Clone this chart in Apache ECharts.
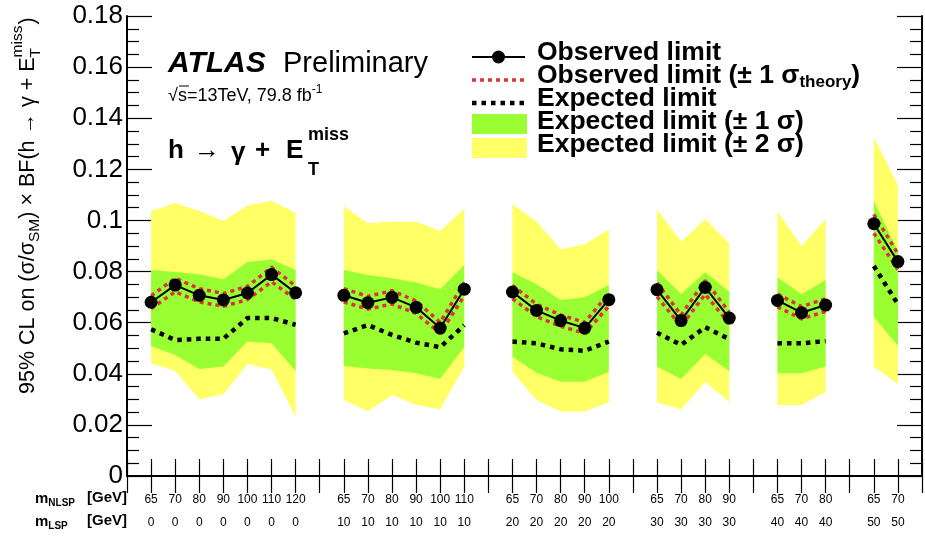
<!DOCTYPE html>
<html>
<head>
<meta charset="utf-8">
<script src="https://cdn.jsdelivr.net/npm/echarts@6/dist/echarts.min.js"></script>
<style>
  html, body { margin: 0; padding: 0; background: #ffffff; }
  #chart { width: 925px; height: 540px; }
</style>
</head>
<body>
<div id="chart"></div>
<script>
// Mass hypotheses along the x axis (empty entries are spacers between LSP groups)
const mNLSP = ['', '65','70','80','90','100','110','120', '', '65','70','80','90','100','110', '', '65','70','80','90','100', '', '65','70','80','90', '', '65','70','80', '', '65','70', ''];
const mLSP  = ['', '0','0','0','0','0','0','0', '', '10','10','10','10','10','10', '', '20','20','20','20','20', '', '30','30','30','30', '', '40','40','40', '', '50','50', ''];

// Observed limit and its theory variations
const observed = [null, 0.0680,0.0747,0.0707,0.0689,0.0716,0.0788,0.0717, null, 0.0707,0.0678,0.0699,0.0660,0.0579,0.0731, null, 0.0720,0.0648,0.0608,0.0579,0.0690, null, 0.0729,0.0608,0.0738,0.0618, null, 0.0687,0.0639,0.0669, null, 0.0987,0.0839, null];
const obsUp    = [null, 0.0705,0.0774,0.0733,0.0714,0.0742,0.0817,0.0743, null, 0.0733,0.0703,0.0725,0.0685,0.0601,0.0758, null, 0.0746,0.0672,0.0630,0.0601,0.0715, null, 0.0756,0.0630,0.0765,0.0641, null, 0.0712,0.0663,0.0694, null, 0.1024,0.0870, null];
const obsDown  = [null, 0.0655,0.0721,0.0681,0.0664,0.0690,0.0760,0.0691, null, 0.0681,0.0653,0.0673,0.0636,0.0558,0.0705, null, 0.0694,0.0624,0.0586,0.0558,0.0665, null, 0.0702,0.0586,0.0711,0.0596, null, 0.0662,0.0615,0.0644, null, 0.0950,0.0808, null];

// Expected limit with 1 and 2 sigma bands
const expected = [null, 0.0574,0.0532,0.0537,0.0537,0.0618,0.0618,0.0592, null, 0.0558,0.0591,0.0552,0.0522,0.0504,0.0590, null, 0.0526,0.0519,0.0496,0.0490,0.0526, null, 0.0561,0.0513,0.0582,0.0536, null, 0.0519,0.0519,0.0528, null, 0.0822,0.0672, null];
const exp1Up   = [null, 0.0806,0.0798,0.0789,0.0770,0.0837,0.0848,0.0806, null, 0.0806,0.0787,0.0774,0.0757,0.0731,0.0826, null, 0.0797,0.0750,0.0689,0.0699,0.0747, null, 0.0806,0.0712,0.0797,0.0721, null, 0.0777,0.0711,0.0767, null, 0.1077,0.0880, null];
const exp1Down = [null, 0.0509,0.0473,0.0419,0.0428,0.0526,0.0519,0.0411, null, 0.0430,0.0421,0.0415,0.0402,0.0381,0.0506, null, 0.0467,0.0404,0.0369,0.0369,0.0408, null, 0.0428,0.0380,0.0477,0.0411, null, 0.0402,0.0402,0.0428, null, 0.0623,0.0509, null];
const exp2Up   = [null, 0.1037,0.1067,0.1037,0.0998,0.1058,0.1077,0.1028, null, 0.1056,0.0989,0.0995,0.0995,0.0959,0.1045, null, 0.1064,0.0995,0.0887,0.0907,0.0965, null, 0.1045,0.0917,0.1006,0.0910, null, 0.1034,0.0900,0.1006, null, 0.1325,0.1139, null];
const exp2Down = [null, 0.0441,0.0411,0.0300,0.0320,0.0438,0.0417,0.0232, null, 0.0297,0.0252,0.0317,0.0278,0.0261,0.0428, null, 0.0408,0.0297,0.0252,0.0252,0.0290, null, 0.0288,0.0261,0.0367,0.0291, null, 0.0278,0.0278,0.0330, null, 0.0428,0.0360, null];

// Y axis range and ticks
const yMin = 0, yMax = 0.18, yStep = 0.02;

const FONT = '"Liberation Sans", Arial, Helvetica, sans-serif';
const GREEN = '#99ff33';
const YELLOW = '#ffff66';
const RED = '#d9343c';

const chart = echarts.init(document.getElementById('chart'), null, { renderer: 'canvas' });

// band thickness for stacked areas
const width = (hi, lo) => hi.map((v, i) => (v == null || lo[i] == null) ? null : +(v - lo[i]).toFixed(5));
const cats = mNLSP.map((_, i) => String(i));

// text measuring for composed labels with sub/superscripts
const meas = document.createElement('canvas').getContext('2d');
function textWidth(str, size, weight) {
  meas.font = (weight || 'normal') + ' ' + size + 'px ' + FONT;
  return meas.measureText(str).width;
}
function txt(str, x, y, size, extra) {
  return {
    type: 'text', x: x, y: y,
    style: Object.assign({
      text: str, fontSize: size, fontFamily: FONT, fill: '#000',
      align: 'left', verticalAlign: 'middle'
    }, extra || {})
  };
}

// Rotated y axis title: 95% CL on (σ/σ_SM) × BF(h → γ + E_T^miss)
const titleParts = [];
(function () {
  let cx = 0;
  const big = 21.5, small = 15.5;
  const put = (s, size, dy) => { titleParts.push(txt(s, cx, dy, size)); return textWidth(s, size); };
  cx += put('95% CL on (σ/σ', big, 0);
  cx += put('SM', small, 7);
  cx += put(') × BF(h → γ + E', big, 0);
  const wT = put('T', small, 8);
  const wM = put('miss', small, -10);
  cx += Math.max(wT, wM) + 1;
  put(')', big, 0);
})();

// h → γ + E_T^miss label
const procParts = [
  txt('h', 168, 151, 26, { fontWeight: 'bold' }),
  txt('→', 194, 151, 26),
  txt('γ', 231, 153, 26, { fontWeight: 'bold' }),
  txt('+', 255, 151, 26, { fontWeight: 'bold' }),
  txt('E', 286, 151, 26, { fontWeight: 'bold' }),
  txt('T', 308, 170, 18, { fontWeight: 'bold' }),
  txt('miss', 308, 135, 18, { fontWeight: 'bold' })
];

const legendX = 472, legendW = 53, legendTextX = 537;
const legendRows = [53, 76, 99, 122, 145];

const option = {
  animation: false,
  backgroundColor: '#ffffff',
  textStyle: { fontFamily: FONT },
  grid: { left: 127, right: -1, top: 16, bottom: 64, containLabel: false },
  xAxis: [
    {
      type: 'category', data: cats, boundaryGap: false, position: 'bottom',
      axisLine: { show: true, lineStyle: { color: '#000', width: 2 } },
      axisTick: { show: true, inside: true, length: 17, interval: 0, lineStyle: { color: '#000', width: 1.2 } },
      axisLabel: {
        show: true, interval: 0, margin: 12, color: '#000',
        formatter: (v, i) => '{r|' + mNLSP[i] + '}\n{r|' + mLSP[i] + '}',
        rich: { r: { fontSize: 12, lineHeight: 23, fontFamily: FONT, color: '#000' } }
      },
      splitLine: { show: false }
    },
    {
      type: 'category', data: cats, boundaryGap: false, position: 'top',
      axisLine: { show: true, lineStyle: { color: '#000', width: 2 } },
      axisTick: { show: true, inside: true, length: 17, interval: 0, lineStyle: { color: '#000', width: 1.2 } },
      axisLabel: { show: false },
      splitLine: { show: false }
    }
  ],
  yAxis: [
    {
      type: 'value', min: yMin, max: yMax, interval: yStep, position: 'left',
      axisLine: { show: true, lineStyle: { color: '#000', width: 2 } },
      axisTick: { show: true, inside: true, length: 25, lineStyle: { color: '#000', width: 1.2 } },
      minorTick: { show: true, splitNumber: 4, length: 12, lineStyle: { color: '#000', width: 1.2 } },
      axisLabel: {
        show: true, margin: 4, color: '#000', fontSize: 26, fontFamily: FONT,
        formatter: v => String(+v.toFixed(2))
      },
      splitLine: { show: false }
    },
    {
      type: 'value', min: yMin, max: yMax, interval: yStep, position: 'right',
      axisLine: { show: true, lineStyle: { color: '#000', width: 2 } },
      axisTick: { show: true, inside: true, length: 25, lineStyle: { color: '#000', width: 1.2 } },
      minorTick: { show: true, splitNumber: 4, length: 12, lineStyle: { color: '#000', width: 1.2 } },
      axisLabel: { show: false },
      splitLine: { show: false }
    }
  ],
  series: [
    // ±2σ band
    { name: 'lo2', type: 'line', stack: 'band2', data: exp2Down, symbol: 'none', silent: true,
      lineStyle: { width: 0, opacity: 0 }, connectNulls: false },
    { name: 'Expected limit (± 2 σ)', type: 'line', stack: 'band2', data: width(exp2Up, exp2Down), symbol: 'none', silent: true,
      lineStyle: { width: 0, opacity: 0 }, areaStyle: { color: YELLOW, opacity: 1 }, connectNulls: false },
    // ±1σ band
    { name: 'lo1', type: 'line', stack: 'band1', data: exp1Down, symbol: 'none', silent: true,
      lineStyle: { width: 0, opacity: 0 }, connectNulls: false },
    { name: 'Expected limit (± 1 σ)', type: 'line', stack: 'band1', data: width(exp1Up, exp1Down), symbol: 'none', silent: true,
      lineStyle: { width: 0, opacity: 0 }, areaStyle: { color: GREEN, opacity: 1 }, connectNulls: false },
    // expected limit
    { name: 'Expected limit', type: 'line', data: expected, symbol: 'none', silent: true,
      lineStyle: { color: '#000', width: 4.5, type: [4.5, 5], cap: 'butt' }, connectNulls: false },
    // observed ± theory
    { name: 'obsUp', type: 'line', data: obsUp, symbol: 'none', silent: true,
      lineStyle: { color: RED, width: 3.5, type: [4, 4], cap: 'butt' }, connectNulls: false },
    { name: 'obsDown', type: 'line', data: obsDown, symbol: 'none', silent: true,
      lineStyle: { color: RED, width: 3.5, type: [4, 4], cap: 'butt' }, connectNulls: false },
    // observed limit
    { name: 'Observed limit', type: 'line', data: observed, symbol: 'circle', symbolSize: 13, silent: true,
      itemStyle: { color: '#000' }, lineStyle: { color: '#000', width: 2 }, connectNulls: false }
  ],
  graphic: [
    { type: 'group', x: 28, y: 394, rotation: Math.PI / 2, children: titleParts },
    // experiment label
    txt('ATLAS', 168, 64, 30, { fontWeight: 'bold', fontStyle: 'italic' }),
    txt('Preliminary', 283, 64, 29),
    {
      type: 'text', x: 168, y: 96,
      style: {
        text: '√s=13TeV, 79.8 fb{sup|-1}', fontSize: 18, fontFamily: FONT, fill: '#000',
        align: 'left', verticalAlign: 'middle',
        rich: { sup: { fontSize: 12, verticalAlign: 'top', lineHeight: 12, fontFamily: FONT, fill: '#000' } },
        lineHeight: 24
      }
    },
    { type: 'line', shape: { x1: 179, y1: 86, x2: 189, y2: 86 }, style: { stroke: '#000', lineWidth: 1 } },
    ...procParts,
    // legend
    { type: 'line', shape: { x1: legendX, y1: legendRows[0] + 4, x2: legendX + legendW, y2: legendRows[0] + 4 }, style: { stroke: '#000', lineWidth: 2 } },
    { type: 'circle', shape: { cx: legendX + legendW / 2, cy: legendRows[0] + 4, r: 6.5 }, style: { fill: '#000' } },
    { type: 'line', shape: { x1: legendX, y1: legendRows[1] + 4, x2: legendX + legendW, y2: legendRows[1] + 4 }, style: { stroke: RED, lineWidth: 3.5, lineDash: [4, 4] } },
    { type: 'line', shape: { x1: legendX, y1: legendRows[2] + 4, x2: legendX + legendW, y2: legendRows[2] + 4 }, style: { stroke: '#000', lineWidth: 4.5, lineDash: [4.5, 5] } },
    { type: 'rect', shape: { x: legendX, y: legendRows[3] - 8, width: legendW + 2, height: 20 }, style: { fill: GREEN } },
    { type: 'rect', shape: { x: legendX, y: legendRows[4] - 7, width: legendW + 2, height: 20 }, style: { fill: YELLOW } },
    txt('Observed limit', legendTextX, legendRows[0], 26.5, { fontWeight: 'bold' }),
    {
      type: 'text', x: legendTextX, y: legendRows[1],
      style: {
        text: 'Observed limit (± 1 σ{sub|theory})', fontSize: 26.5, fontWeight: 'bold', fontFamily: FONT, fill: '#000',
        align: 'left', verticalAlign: 'middle', lineHeight: 30,
        rich: { sub: { fontSize: 17, fontWeight: 'bold', verticalAlign: 'bottom', lineHeight: 14, fontFamily: FONT, fill: '#000' } }
      }
    },
    txt('Expected limit', legendTextX, legendRows[2], 26.5, { fontWeight: 'bold' }),
    txt('Expected limit (± 1 σ)', legendTextX, legendRows[3], 26.5, { fontWeight: 'bold' }),
    txt('Expected limit (± 2 σ)', legendTextX, legendRows[4], 26.5, { fontWeight: 'bold' }),
    // x axis row captions
    {
      type: 'text', x: 35, y: 499,
      style: { text: 'm{sub|NLSP}', fontSize: 15, fontWeight: 'bold', fontFamily: FONT, fill: '#000', align: 'left', verticalAlign: 'middle', lineHeight: 18,
        rich: { sub: { fontSize: 10, fontWeight: 'bold', verticalAlign: 'bottom', lineHeight: 10, fontFamily: FONT, fill: '#000' } } }
    },
    txt('[GeV]', 87, 498, 15, { fontWeight: 'bold' }),
    {
      type: 'text', x: 35, y: 522,
      style: { text: 'm{sub|LSP}', fontSize: 15, fontWeight: 'bold', fontFamily: FONT, fill: '#000', align: 'left', verticalAlign: 'middle', lineHeight: 18,
        rich: { sub: { fontSize: 10, fontWeight: 'bold', verticalAlign: 'bottom', lineHeight: 10, fontFamily: FONT, fill: '#000' } } }
    },
    txt('[GeV]', 87, 521, 15, { fontWeight: 'bold' })
  ]
};

chart.setOption(option);
</script>
</body>
</html>
